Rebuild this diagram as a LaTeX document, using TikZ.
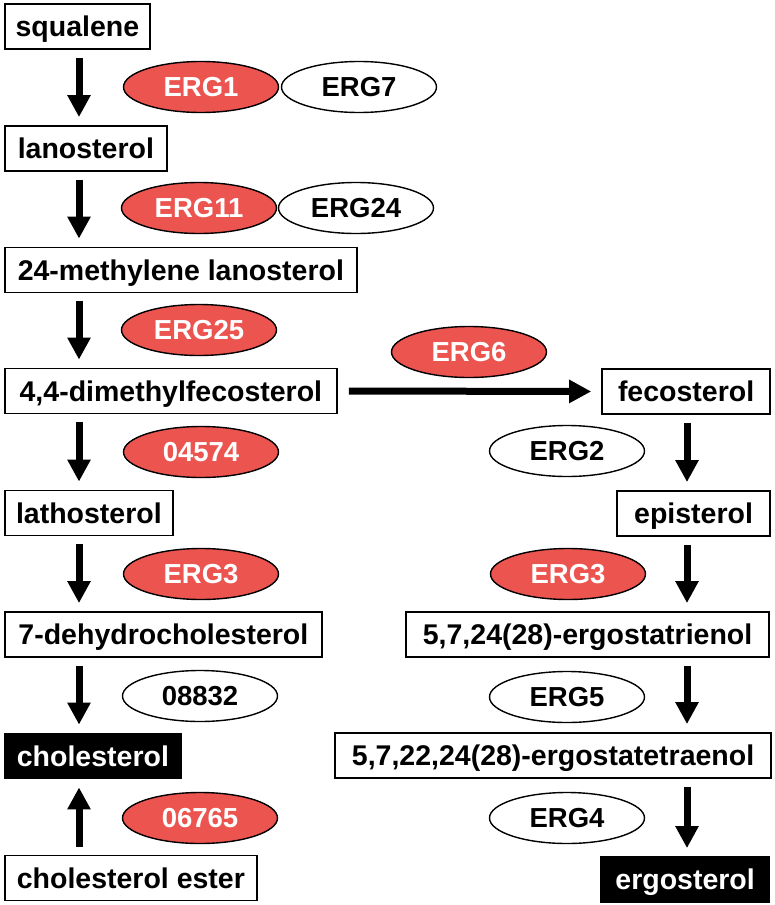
\documentclass[tikz,border=0pt]{standalone}
\usepackage{fontspec}
\setmainfont{Liberation Sans}
\usetikzlibrary{arrows.meta,shapes.geometric}
\definecolor{ergred}{RGB}{236,84,79}
\tikzset{
  compound/.style={draw=black,line width=1.8pt,fill=white,rectangle,minimum height=45pt,inner sep=0pt,
    text height=20.4pt,text depth=0pt,
    font=\fontsize{28.5}{30}\selectfont\bfseries},
  leftbox/.style={compound,anchor=west},
  rightbox/.style={compound,anchor=east},
  endprod/.style={fill=black,text=white},
  enzyme/.style={ellipse,draw=black,line width=1.4pt,minimum width=155pt,minimum height=51pt,inner sep=0pt,
    font=\fontsize{27.5}{29}\selectfont\bfseries},
  redenz/.style={enzyme,fill=ergred,text=white},
  whiteenz/.style={enzyme,fill=white,text=black},
  conv/.style={line width=7pt,-{Triangle[width=22pt,length=22pt]},shorten <=8pt,shorten >=8pt}
}
\begin{document}
\begin{tikzpicture}[x=1pt,y=-1pt]
\useasboundingbox (0,0) rectangle (775,905);
\coordinate (colL) at (79,0);
\coordinate (colR) at (687,0);
% left column
\node[leftbox,minimum width=145pt] (squ) at (4,26.5) {squalene};
\node[leftbox,minimum width=162pt] (lan) at (4,148.5) {lanosterol};
\node[leftbox,minimum width=352pt] (met) at (4,270) {24-methylene lanosterol};
\node[leftbox,minimum width=332pt] (dim) at (4,391) {4,4-dimethylfecosterol};
\node[leftbox,minimum width=168pt] (lat) at (4,513) {lathosterol};
\node[leftbox,minimum width=317pt] (deh) at (4,634.5) {7-dehydrocholesterol};
\node[leftbox,endprod,minimum width=176pt] (cho) at (4,756) {cholesterol};
\node[leftbox,minimum width=252pt] (est) at (4,878) {cholesterol ester};
% right column
\node[rightbox,minimum width=168pt] (fec) at (771,391.5) {fecosterol};
\node[rightbox,minimum width=153pt] (epi) at (771,513.5) {episterol};
\node[rightbox,minimum width=363pt] (tri) at (770,634.5) {5,7,24(28)-ergostatrienol};
\node[rightbox,minimum width=436pt] (tet) at (772,755.5) {5,7,22,24(28)-ergostatetraenol};
\node[rightbox,endprod,minimum width=168pt] (erg) at (770,879.5) {ergosterol};
% enzymes
\node[redenz] (e1) at (201,87) {ERG1};
\node[whiteenz] (e7) at (359,87) {ERG7};
\node[redenz] (e11) at (199,208) {ERG11};
\node[whiteenz] (e24) at (356,208) {ERG24};
\node[redenz] (e25) at (199,330) {ERG25};
\node[redenz] (e6) at (469,352) {ERG6};
\node[redenz] (e04574) at (201,452) {04574};
\node[whiteenz] (e2) at (567,451) {ERG2};
\node[redenz] (e3l) at (201,574) {ERG3};
\node[redenz] (e3r) at (568,574) {ERG3};
\node[whiteenz] (e08832) at (200,696) {08832};
\node[whiteenz] (e5) at (567,697) {ERG5};
\node[redenz] (e06765) at (200,818) {06765};
\node[whiteenz] (e4) at (567,818) {ERG4};
% conversions, left
\draw[conv] (squ.south -| colL) -- (lan.north -| colL);
\draw[conv] (lan.south -| colL) -- (met.north -| colL);
\draw[conv] (met.south -| colL) -- (dim.north -| colL);
\draw[conv] (dim.south -| colL) -- (lat.north -| colL);
\draw[conv] (lat.south -| colL) -- (deh.north -| colL);
\draw[conv] (deh.south -| colL) -- (cho.north -| colL);
\draw[conv] (est.north -| colL) -- (cho.south -| colL);
% branch
\draw[conv,shorten <=11pt,shorten >=10pt] (dim.east) -- (fec.west);
% conversions, right
\draw[conv] (fec.south -| colR) -- (epi.north -| colR);
\draw[conv] (epi.south -| colR) -- (tri.north -| colR);
\draw[conv] (tri.south -| colR) -- (tet.north -| colR);
\draw[conv] (tet.south -| colR) -- (erg.north -| colR);
\end{tikzpicture}
\end{document}
